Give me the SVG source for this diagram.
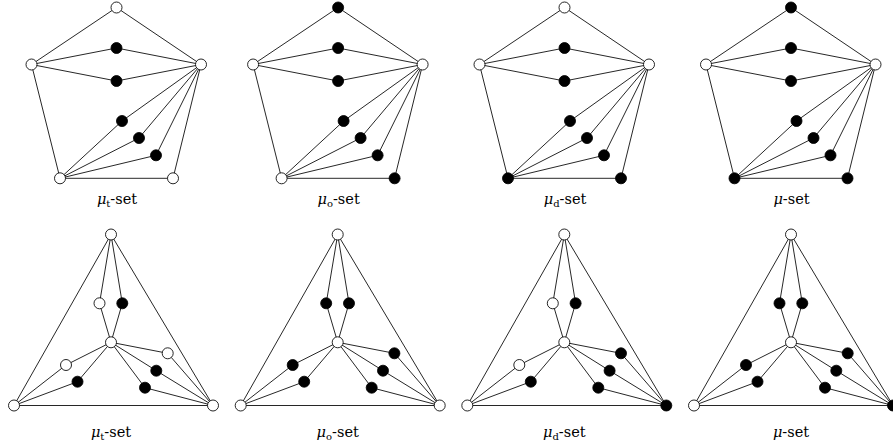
<svg xmlns="http://www.w3.org/2000/svg" width="893" height="445" viewBox="0 0 893 445">
<style>
.e{fill:none;stroke:#000;stroke-width:0.85;stroke-linejoin:round}
.w{fill:#fff;stroke:#000;stroke-width:0.85}
.b{fill:#000;stroke:#000;stroke-width:0.85}
text{font-family:'DejaVu Serif','Liberation Serif',serif;font-size:14.5px;fill:#000}
.it{font-style:italic}
.sub{font-size:10px}
</style>
<defs>
<path id="topE" d="M31.5,64.5 L116.5,7.5 L201,64.5 M31.5,64.5 L116.5,48 L201,64.5 M31.5,64.5 L116.5,81 L201,64.5 M31.5,64.5 L60,178.3 L173,178.3 L201,64.5 M60,178.3 L122,121 L201,64.5 M60,178.3 L139,138 L201,64.5 M60,178.3 L156,155.3 L201,64.5"/>
<path id="botE" d="M111,234.5 L14,405.5 L213,405.5 Z M111,234.5 L99.5,303.3 L111,342.3 L122.3,303.3 Z M111,342.3 L66,365 L14,405.5 M111,342.3 L77.5,381.7 L14,405.5 M111,342.3 L167.7,353.3 L213,405.5 M111,342.3 L156.3,370.7 L213,405.5 M111,342.3 L145,387.7 L213,405.5"/>
</defs>
<g id="connectors">
<use href="#topE" class="e"/>
<use href="#topE" class="e" transform="translate(221.6,0)"/>
<use href="#topE" class="e" transform="translate(448,0)"/>
<use href="#topE" class="e" transform="translate(674.5,0)"/>
<use href="#botE" class="e"/>
<use href="#botE" class="e" transform="translate(226.7,0)"/>
<use href="#botE" class="e" transform="translate(453.3,0)"/>
<use href="#botE" class="e" transform="translate(680,0)"/>
</g>
<g id="panel-top1">
<g id="t1-top"><circle class="w" cx="116.5" cy="7.5" r="5.5"/></g>
<g id="t1-left"><circle class="w" cx="31.5" cy="64.5" r="5.5"/></g>
<g id="t1-right"><circle class="w" cx="201" cy="64.5" r="5.5"/></g>
<g id="t1-m1"><circle class="b" cx="116.5" cy="48" r="5.5"/></g>
<g id="t1-m2"><circle class="b" cx="116.5" cy="81" r="5.5"/></g>
<g id="t1-d1"><circle class="b" cx="122" cy="121" r="5.5"/></g>
<g id="t1-d2"><circle class="b" cx="139" cy="138" r="5.5"/></g>
<g id="t1-d3"><circle class="b" cx="156" cy="155.3" r="5.5"/></g>
<g id="t1-bl"><circle class="w" cx="60" cy="178.3" r="5.5"/></g>
<g id="t1-br"><circle class="w" cx="173" cy="178.3" r="5.5"/></g>
<text x="117" y="204" text-anchor="middle"><tspan class="it">μ</tspan><tspan class="sub" dy="3">t</tspan><tspan dy="-3">-set</tspan></text>
</g>
<g id="panel-top2" transform="translate(221.6,0)">
<g id="t2-top"><circle class="b" cx="116.5" cy="7.5" r="5.5"/></g>
<g id="t2-left"><circle class="w" cx="31.5" cy="64.5" r="5.5"/></g>
<g id="t2-right"><circle class="w" cx="201" cy="64.5" r="5.5"/></g>
<g id="t2-m1"><circle class="b" cx="116.5" cy="48" r="5.5"/></g>
<g id="t2-m2"><circle class="b" cx="116.5" cy="81" r="5.5"/></g>
<g id="t2-d1"><circle class="b" cx="122" cy="121" r="5.5"/></g>
<g id="t2-d2"><circle class="b" cx="139" cy="138" r="5.5"/></g>
<g id="t2-d3"><circle class="b" cx="156" cy="155.3" r="5.5"/></g>
<g id="t2-bl"><circle class="w" cx="60" cy="178.3" r="5.5"/></g>
<g id="t2-br"><circle class="b" cx="173" cy="178.3" r="5.5"/></g>
<text x="117" y="204" text-anchor="middle"><tspan class="it">μ</tspan><tspan class="sub" dy="3">o</tspan><tspan dy="-3">-set</tspan></text>
</g>
<g id="panel-top3" transform="translate(448,0)">
<g id="t3-top"><circle class="w" cx="116.5" cy="7.5" r="5.5"/></g>
<g id="t3-left"><circle class="w" cx="31.5" cy="64.5" r="5.5"/></g>
<g id="t3-right"><circle class="w" cx="201" cy="64.5" r="5.5"/></g>
<g id="t3-m1"><circle class="b" cx="116.5" cy="48" r="5.5"/></g>
<g id="t3-m2"><circle class="b" cx="116.5" cy="81" r="5.5"/></g>
<g id="t3-d1"><circle class="b" cx="122" cy="121" r="5.5"/></g>
<g id="t3-d2"><circle class="b" cx="139" cy="138" r="5.5"/></g>
<g id="t3-d3"><circle class="b" cx="156" cy="155.3" r="5.5"/></g>
<g id="t3-bl"><circle class="b" cx="60" cy="178.3" r="5.5"/></g>
<g id="t3-br"><circle class="b" cx="173" cy="178.3" r="5.5"/></g>
<text x="117" y="204" text-anchor="middle"><tspan class="it">μ</tspan><tspan class="sub" dy="3">d</tspan><tspan dy="-3">-set</tspan></text>
</g>
<g id="panel-top4" transform="translate(674.5,0)">
<g id="t4-top"><circle class="b" cx="116.5" cy="7.5" r="5.5"/></g>
<g id="t4-left"><circle class="w" cx="31.5" cy="64.5" r="5.5"/></g>
<g id="t4-right"><circle class="w" cx="201" cy="64.5" r="5.5"/></g>
<g id="t4-m1"><circle class="b" cx="116.5" cy="48" r="5.5"/></g>
<g id="t4-m2"><circle class="b" cx="116.5" cy="81" r="5.5"/></g>
<g id="t4-d1"><circle class="b" cx="122" cy="121" r="5.5"/></g>
<g id="t4-d2"><circle class="b" cx="139" cy="138" r="5.5"/></g>
<g id="t4-d3"><circle class="b" cx="156" cy="155.3" r="5.5"/></g>
<g id="t4-bl"><circle class="b" cx="60" cy="178.3" r="5.5"/></g>
<g id="t4-br"><circle class="b" cx="173" cy="178.3" r="5.5"/></g>
<text x="117" y="204" text-anchor="middle"><tspan class="it">μ</tspan><tspan>-set</tspan></text>
</g>
<g id="panel-bot1">
<g id="b1-top"><circle class="w" cx="111" cy="234.5" r="5.5"/></g>
<g id="b1-ul"><circle class="w" cx="99.5" cy="303.3" r="5.5"/></g>
<g id="b1-ur"><circle class="b" cx="122.3" cy="303.3" r="5.5"/></g>
<g id="b1-c"><circle class="w" cx="111" cy="342.3" r="5.5"/></g>
<g id="b1-lu"><circle class="w" cx="66" cy="365" r="5.5"/></g>
<g id="b1-ll"><circle class="b" cx="77.5" cy="381.7" r="5.5"/></g>
<g id="b1-ru"><circle class="w" cx="167.7" cy="353.3" r="5.5"/></g>
<g id="b1-rm"><circle class="b" cx="156.3" cy="370.7" r="5.5"/></g>
<g id="b1-rl"><circle class="b" cx="145" cy="387.7" r="5.5"/></g>
<g id="b1-bl"><circle class="w" cx="14" cy="405.5" r="5.5"/></g>
<g id="b1-br"><circle class="w" cx="213" cy="405.5" r="5.5"/></g>
<text x="111" y="437" text-anchor="middle"><tspan class="it">μ</tspan><tspan class="sub" dy="3">t</tspan><tspan dy="-3">-set</tspan></text>
</g>
<g id="panel-bot2" transform="translate(226.7,0)">
<g id="b2-top"><circle class="w" cx="111" cy="234.5" r="5.5"/></g>
<g id="b2-ul"><circle class="b" cx="99.5" cy="303.3" r="5.5"/></g>
<g id="b2-ur"><circle class="b" cx="122.3" cy="303.3" r="5.5"/></g>
<g id="b2-c"><circle class="w" cx="111" cy="342.3" r="5.5"/></g>
<g id="b2-lu"><circle class="b" cx="66" cy="365" r="5.5"/></g>
<g id="b2-ll"><circle class="b" cx="77.5" cy="381.7" r="5.5"/></g>
<g id="b2-ru"><circle class="b" cx="167.7" cy="353.3" r="5.5"/></g>
<g id="b2-rm"><circle class="b" cx="156.3" cy="370.7" r="5.5"/></g>
<g id="b2-rl"><circle class="b" cx="145" cy="387.7" r="5.5"/></g>
<g id="b2-bl"><circle class="w" cx="14" cy="405.5" r="5.5"/></g>
<g id="b2-br"><circle class="w" cx="213" cy="405.5" r="5.5"/></g>
<text x="111" y="437" text-anchor="middle"><tspan class="it">μ</tspan><tspan class="sub" dy="3">o</tspan><tspan dy="-3">-set</tspan></text>
</g>
<g id="panel-bot3" transform="translate(453.3,0)">
<g id="b3-top"><circle class="w" cx="111" cy="234.5" r="5.5"/></g>
<g id="b3-ul"><circle class="w" cx="99.5" cy="303.3" r="5.5"/></g>
<g id="b3-ur"><circle class="b" cx="122.3" cy="303.3" r="5.5"/></g>
<g id="b3-c"><circle class="w" cx="111" cy="342.3" r="5.5"/></g>
<g id="b3-lu"><circle class="w" cx="66" cy="365" r="5.5"/></g>
<g id="b3-ll"><circle class="b" cx="77.5" cy="381.7" r="5.5"/></g>
<g id="b3-ru"><circle class="b" cx="167.7" cy="353.3" r="5.5"/></g>
<g id="b3-rm"><circle class="b" cx="156.3" cy="370.7" r="5.5"/></g>
<g id="b3-rl"><circle class="b" cx="145" cy="387.7" r="5.5"/></g>
<g id="b3-bl"><circle class="w" cx="14" cy="405.5" r="5.5"/></g>
<g id="b3-br"><circle class="b" cx="213" cy="405.5" r="5.5"/></g>
<text x="111" y="437" text-anchor="middle"><tspan class="it">μ</tspan><tspan class="sub" dy="3">d</tspan><tspan dy="-3">-set</tspan></text>
</g>
<g id="panel-bot4" transform="translate(680,0)">
<g id="b4-top"><circle class="w" cx="111" cy="234.5" r="5.5"/></g>
<g id="b4-ul"><circle class="b" cx="99.5" cy="303.3" r="5.5"/></g>
<g id="b4-ur"><circle class="b" cx="122.3" cy="303.3" r="5.5"/></g>
<g id="b4-c"><circle class="w" cx="111" cy="342.3" r="5.5"/></g>
<g id="b4-lu"><circle class="b" cx="66" cy="365" r="5.5"/></g>
<g id="b4-ll"><circle class="b" cx="77.5" cy="381.7" r="5.5"/></g>
<g id="b4-ru"><circle class="b" cx="167.7" cy="353.3" r="5.5"/></g>
<g id="b4-rm"><circle class="b" cx="156.3" cy="370.7" r="5.5"/></g>
<g id="b4-rl"><circle class="b" cx="145" cy="387.7" r="5.5"/></g>
<g id="b4-bl"><circle class="w" cx="14" cy="405.5" r="5.5"/></g>
<g id="b4-br"><circle class="b" cx="213" cy="405.5" r="5.5"/></g>
<text x="111" y="437" text-anchor="middle"><tspan class="it">μ</tspan><tspan>-set</tspan></text>
</g>
</svg>
